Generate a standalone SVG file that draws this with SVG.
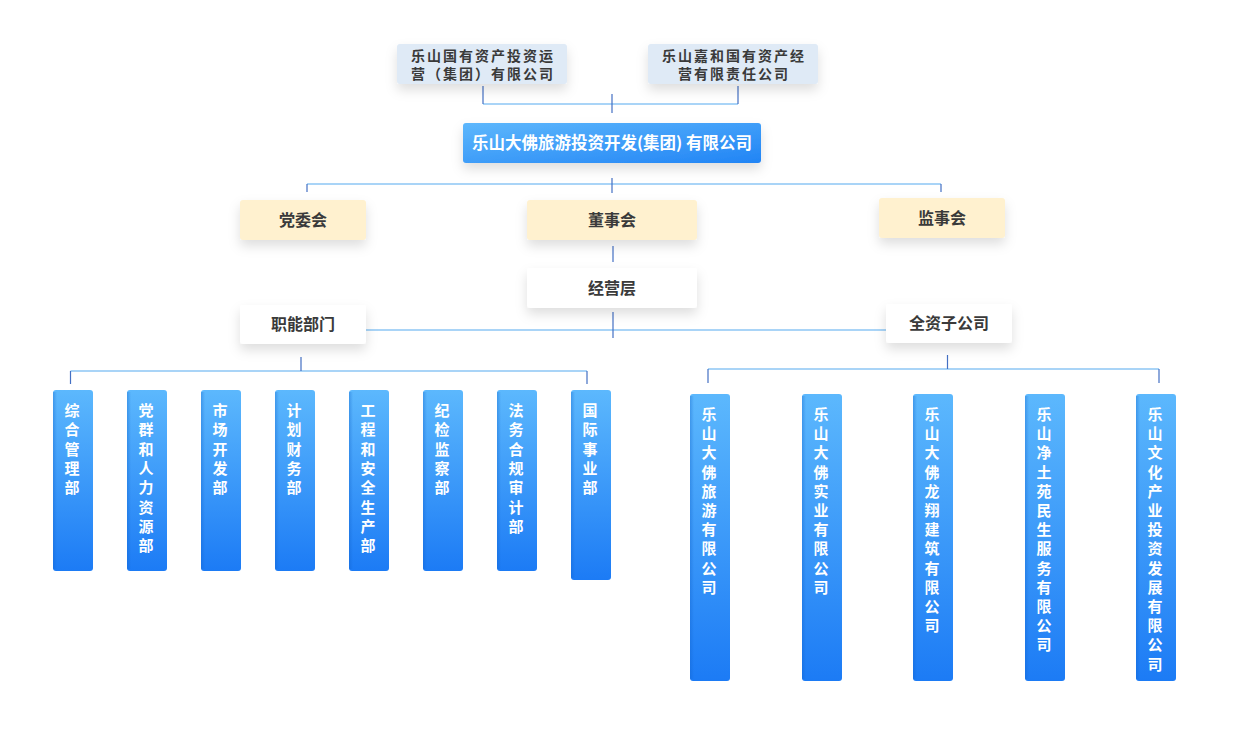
<svg xmlns="http://www.w3.org/2000/svg" width="1234" height="734" viewBox="0 0 1234 734">
<defs>
<filter id="sh" x="-30%" y="-40%" width="160%" height="200%">
<feDropShadow dx="0" dy="6" stdDeviation="6" flood-color="#000" flood-opacity="0.13"/>
</filter>
<linearGradient id="gv" x1="0" y1="0" x2="0" y2="1">
<stop offset="0" stop-color="#5cb8fd"/>
<stop offset="1" stop-color="#1c7bf5"/>
</linearGradient>
<linearGradient id="gm" x1="0" y1="0" x2="1" y2="1">
<stop offset="0" stop-color="#5db7fc"/>
<stop offset="1" stop-color="#2184f5"/>
</linearGradient>
<linearGradient id="edge" x1="0" y1="0" x2="1" y2="0">
<stop offset="0" stop-color="#0f5fc8" stop-opacity="0.35"/>
<stop offset="1" stop-color="#0f5fc8" stop-opacity="0"/>
</linearGradient>
</defs>
<style>
text{font-family:"Noto Sans CJK SC","Microsoft YaHei",sans-serif;font-weight:bold}
.d{font-size:16px;fill:#3a3a3a;text-anchor:middle}
.tt{font-size:14px;letter-spacing:2px;fill:#3a3a3a;text-anchor:middle}
.w{fill:#fff;text-anchor:middle}
.v{font-size:15px;fill:#fff;text-anchor:middle}
.top{fill:#dfeaf6}
.yel{fill:#fff1cf}
.wht{fill:#fff}
.h{stroke:#55a9f0;stroke-width:1.2;fill:none}
.t{stroke:#4470c4;stroke-width:1.2;fill:none}
</style>
<rect width="1234" height="734" fill="#fff"/>

<g id="connectors">
<path class="h" d="M483,104 H738"/>
<path class="t" d="M483,86 V104 M738,86 V104 M612,94 V113"/>
<path class="h" d="M307,184 H941"/>
<path class="t" d="M612,178 V193 M307,184 V192 M941,184 V192"/>
<path class="t" d="M613,246 V262"/>
<path class="h" d="M366,330 H886"/>
<path class="t" d="M613,312 V338"/>
<path class="h" d="M70.5,371 H587"/>
<path class="t" d="M301,357 V371 M70.5,371 V384 M587,371 V384"/>
<path class="h" d="M708,369 H1159"/>
<path class="t" d="M947.5,355 V369 M708,369 V383 M1159,369 V383"/>
</g>

<g id="n-top1"><rect class="top" x="397" y="44" width="170" height="40" rx="3" filter="url(#sh)"/>
<text class="tt" y="60.5"><tspan x="483">乐山国有资产投资运</tspan><tspan x="483" dy="18.8">营（集团）有限公司</tspan></text></g>
<g id="n-top2"><rect class="top" x="648" y="44" width="170" height="40" rx="3" filter="url(#sh)"/>
<text class="tt" y="60.5"><tspan x="734">乐山嘉和国有资产经</tspan><tspan x="734" dy="18.8">营有限责任公司</tspan></text></g>
<g id="n-main"><rect fill="url(#gm)" x="463" y="123" width="298" height="40" rx="3" filter="url(#sh)"/>
<text class="w" x="612" y="148.5" font-size="16.5">乐山大佛旅游投资开发(集团) 有限公司</text></g>

<g id="n-dwh"><rect class="yel" x="240" y="200" width="126" height="40" rx="3" filter="url(#sh)"/><text class="d" x="303" y="225.5" font-size="15.5">党委会</text></g>
<g id="n-dsh"><rect class="yel" x="527" y="200" width="170" height="40" rx="3" filter="url(#sh)"/><text class="d" x="612" y="225.5" font-size="15.5">董事会</text></g>
<g id="n-jsh"><rect class="yel" x="879" y="198" width="126" height="40" rx="3" filter="url(#sh)"/><text class="d" x="942" y="223.5" font-size="15.5">监事会</text></g>
<g id="n-jyc"><rect class="wht" x="527" y="268" width="170" height="40" rx="3" filter="url(#sh)"/><text class="d" x="612" y="293.5" font-size="15.5">经营层</text></g>
<g id="n-znbm"><rect class="wht" x="240" y="305" width="126" height="39" rx="3" filter="url(#sh)"/><text class="d" x="303" y="330" font-size="15.5">职能部门</text></g>
<g id="n-qzgs"><rect class="wht" x="886" y="304" width="126" height="39" rx="3" filter="url(#sh)"/><text class="d" x="949" y="329" font-size="15.5">全资子公司</text></g>

<g id="n-b1"><rect fill="url(#gv)" x="53" y="390" width="40" height="181" rx="3"/><rect fill="url(#edge)" x="53" y="392" width="4" height="177"/>
<text class="v" y="416"><tspan x="72">综</tspan><tspan x="72" dy="19.3">合</tspan><tspan x="72" dy="19.3">管</tspan><tspan x="72" dy="19.3">理</tspan><tspan x="72" dy="19.3">部</tspan></text></g>
<g id="n-b2"><rect fill="url(#gv)" x="127" y="390" width="40" height="181" rx="3"/><rect fill="url(#edge)" x="127" y="392" width="4" height="177"/>
<text class="v" y="416"><tspan x="146">党</tspan><tspan x="146" dy="19.3">群</tspan><tspan x="146" dy="19.3">和</tspan><tspan x="146" dy="19.3">人</tspan><tspan x="146" dy="19.3">力</tspan><tspan x="146" dy="19.3">资</tspan><tspan x="146" dy="19.3">源</tspan><tspan x="146" dy="19.3">部</tspan></text></g>
<g id="n-b3"><rect fill="url(#gv)" x="201" y="390" width="40" height="181" rx="3"/><rect fill="url(#edge)" x="201" y="392" width="4" height="177"/>
<text class="v" y="416"><tspan x="220">市</tspan><tspan x="220" dy="19.3">场</tspan><tspan x="220" dy="19.3">开</tspan><tspan x="220" dy="19.3">发</tspan><tspan x="220" dy="19.3">部</tspan></text></g>
<g id="n-b4"><rect fill="url(#gv)" x="275" y="390" width="40" height="181" rx="3"/><rect fill="url(#edge)" x="275" y="392" width="4" height="177"/>
<text class="v" y="416"><tspan x="294">计</tspan><tspan x="294" dy="19.3">划</tspan><tspan x="294" dy="19.3">财</tspan><tspan x="294" dy="19.3">务</tspan><tspan x="294" dy="19.3">部</tspan></text></g>
<g id="n-b5"><rect fill="url(#gv)" x="349" y="390" width="40" height="181" rx="3"/><rect fill="url(#edge)" x="349" y="392" width="4" height="177"/>
<text class="v" y="416"><tspan x="368">工</tspan><tspan x="368" dy="19.3">程</tspan><tspan x="368" dy="19.3">和</tspan><tspan x="368" dy="19.3">安</tspan><tspan x="368" dy="19.3">全</tspan><tspan x="368" dy="19.3">生</tspan><tspan x="368" dy="19.3">产</tspan><tspan x="368" dy="19.3">部</tspan></text></g>
<g id="n-b6"><rect fill="url(#gv)" x="423" y="390" width="40" height="181" rx="3"/><rect fill="url(#edge)" x="423" y="392" width="4" height="177"/>
<text class="v" y="416"><tspan x="442">纪</tspan><tspan x="442" dy="19.3">检</tspan><tspan x="442" dy="19.3">监</tspan><tspan x="442" dy="19.3">察</tspan><tspan x="442" dy="19.3">部</tspan></text></g>
<g id="n-b7"><rect fill="url(#gv)" x="497" y="390" width="40" height="181" rx="3"/><rect fill="url(#edge)" x="497" y="392" width="4" height="177"/>
<text class="v" y="416"><tspan x="516">法</tspan><tspan x="516" dy="19.3">务</tspan><tspan x="516" dy="19.3">合</tspan><tspan x="516" dy="19.3">规</tspan><tspan x="516" dy="19.3">审</tspan><tspan x="516" dy="19.3">计</tspan><tspan x="516" dy="19.3">部</tspan></text></g>
<g id="n-b8"><rect fill="url(#gv)" x="571" y="390" width="40" height="190" rx="3"/><rect fill="url(#edge)" x="571" y="392" width="4" height="186"/>
<text class="v" y="416"><tspan x="590">国</tspan><tspan x="590" dy="19.3">际</tspan><tspan x="590" dy="19.3">事</tspan><tspan x="590" dy="19.3">业</tspan><tspan x="590" dy="19.3">部</tspan></text></g>

<g id="n-s1"><rect fill="url(#gv)" x="690" y="394" width="40" height="287" rx="3"/><rect fill="url(#edge)" x="690" y="396" width="4" height="283"/>
<text class="v" y="420"><tspan x="709">乐</tspan><tspan x="709" dy="19.2">山</tspan><tspan x="709" dy="19.2">大</tspan><tspan x="709" dy="19.2">佛</tspan><tspan x="709" dy="19.2">旅</tspan><tspan x="709" dy="19.2">游</tspan><tspan x="709" dy="19.2">有</tspan><tspan x="709" dy="19.2">限</tspan><tspan x="709" dy="19.2">公</tspan><tspan x="709" dy="19.2">司</tspan></text></g>
<g id="n-s2"><rect fill="url(#gv)" x="802" y="394" width="40" height="287" rx="3"/><rect fill="url(#edge)" x="802" y="396" width="4" height="283"/>
<text class="v" y="420"><tspan x="821">乐</tspan><tspan x="821" dy="19.2">山</tspan><tspan x="821" dy="19.2">大</tspan><tspan x="821" dy="19.2">佛</tspan><tspan x="821" dy="19.2">实</tspan><tspan x="821" dy="19.2">业</tspan><tspan x="821" dy="19.2">有</tspan><tspan x="821" dy="19.2">限</tspan><tspan x="821" dy="19.2">公</tspan><tspan x="821" dy="19.2">司</tspan></text></g>
<g id="n-s3"><rect fill="url(#gv)" x="913" y="394" width="40" height="287" rx="3"/><rect fill="url(#edge)" x="913" y="396" width="4" height="283"/>
<text class="v" y="420"><tspan x="932">乐</tspan><tspan x="932" dy="19.2">山</tspan><tspan x="932" dy="19.2">大</tspan><tspan x="932" dy="19.2">佛</tspan><tspan x="932" dy="19.2">龙</tspan><tspan x="932" dy="19.2">翔</tspan><tspan x="932" dy="19.2">建</tspan><tspan x="932" dy="19.2">筑</tspan><tspan x="932" dy="19.2">有</tspan><tspan x="932" dy="19.2">限</tspan><tspan x="932" dy="19.2">公</tspan><tspan x="932" dy="19.2">司</tspan></text></g>
<g id="n-s4"><rect fill="url(#gv)" x="1025" y="394" width="40" height="287" rx="3"/><rect fill="url(#edge)" x="1025" y="396" width="4" height="283"/>
<text class="v" y="420"><tspan x="1044">乐</tspan><tspan x="1044" dy="19.2">山</tspan><tspan x="1044" dy="19.2">净</tspan><tspan x="1044" dy="19.2">土</tspan><tspan x="1044" dy="19.2">苑</tspan><tspan x="1044" dy="19.2">民</tspan><tspan x="1044" dy="19.2">生</tspan><tspan x="1044" dy="19.2">服</tspan><tspan x="1044" dy="19.2">务</tspan><tspan x="1044" dy="19.2">有</tspan><tspan x="1044" dy="19.2">限</tspan><tspan x="1044" dy="19.2">公</tspan><tspan x="1044" dy="19.2">司</tspan></text></g>
<g id="n-s5"><rect fill="url(#gv)" x="1136" y="394" width="40" height="287" rx="3"/><rect fill="url(#edge)" x="1136" y="396" width="4" height="283"/>
<text class="v" y="420"><tspan x="1155">乐</tspan><tspan x="1155" dy="19.2">山</tspan><tspan x="1155" dy="19.2">文</tspan><tspan x="1155" dy="19.2">化</tspan><tspan x="1155" dy="19.2">产</tspan><tspan x="1155" dy="19.2">业</tspan><tspan x="1155" dy="19.2">投</tspan><tspan x="1155" dy="19.2">资</tspan><tspan x="1155" dy="19.2">发</tspan><tspan x="1155" dy="19.2">展</tspan><tspan x="1155" dy="19.2">有</tspan><tspan x="1155" dy="19.2">限</tspan><tspan x="1155" dy="19.2">公</tspan><tspan x="1155" dy="19.2">司</tspan></text></g>
</svg>
